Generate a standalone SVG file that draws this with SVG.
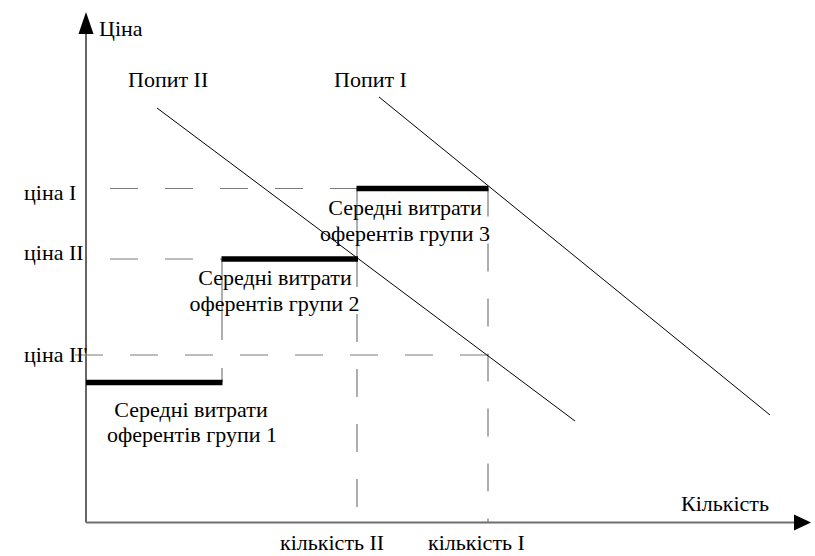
<svg xmlns="http://www.w3.org/2000/svg" width="815" height="556" viewBox="0 0 815 556">
  <style>
    text { font-family: "Liberation Serif", "DejaVu Serif", serif; font-size: 22px; fill: #000; }
    .mid { text-anchor: middle; }
    .axis { stroke: #333; stroke-width: 1.5; fill: none; }
    .axis-x { stroke: #6e6e6e; stroke-width: 2; fill: none; }
    .guide { stroke: #7a7a7a; stroke-width: 1.2; fill: none; stroke-dasharray: 28 27; }
    .step { stroke: #7a7a7a; stroke-width: 1.2; fill: none; }
    .demand { stroke: #000; stroke-width: 1; fill: none; }
    .cost { stroke: #000; stroke-width: 5.5; fill: none; }
    .head { fill: #000; }
  </style>

  <!-- axes -->
  <g id="axes">
    <line class="axis" x1="86" y1="30" x2="86" y2="522.5"/>
    <polygon class="head" points="86,12 78.5,34 93.5,34"/>
    <line class="axis-x" x1="86" y1="522.5" x2="796" y2="522.5"/>
    <polygon class="head" points="811,522.5 794,514.5 794,530.5"/>
    <text x="99" y="36">Ціна</text>
    <text x="681" y="511">Кількість</text>
  </g>

  <!-- price and quantity guides -->
  <g id="guides">
    <line class="guide" x1="110" y1="188.5" x2="357" y2="188.5"/>
    <line class="guide" x1="110" y1="259" x2="222" y2="259"/>
    <line class="guide" x1="75" y1="355" x2="488" y2="355"/>
    <line class="step" x1="222" y1="259" x2="222" y2="340"/>
    <line class="step" x1="222" y1="368" x2="222" y2="382"/>
    <line class="step" x1="357" y1="188.5" x2="357" y2="259"/>
    <line class="guide" x1="357" y1="259" x2="357" y2="522"/>
    <line class="guide" x1="488" y1="188.5" x2="488" y2="522"/>
  </g>

  <!-- price labels -->
  <g id="price-labels">
    <text x="24" y="200">ціна I</text>
    <text x="24" y="260">ціна II</text>
    <text x="24" y="362">ціна II'</text>
  </g>

  <!-- quantity labels -->
  <g id="quantity-labels">
    <text x="280" y="550">кількість II</text>
    <text x="428" y="550">кількість I</text>
  </g>

  <!-- demand curves -->
  <g id="demand-2">
    <line class="demand" x1="157" y1="108" x2="575" y2="421"/>
    <text x="128" y="87">Попит II</text>
  </g>
  <g id="demand-1">
    <line class="demand" x1="379" y1="97" x2="770" y2="415"/>
    <text x="334" y="87">Попит I</text>
  </g>

  <!-- average costs of supplier groups -->
  <g id="group-1">
    <line class="cost" x1="86" y1="382.5" x2="222.5" y2="382.5"/>
    <text class="mid" x="191" y="417">Середні витрати</text>
    <text class="mid" x="192" y="442">оферентів групи 1</text>
  </g>
  <g id="group-2">
    <line class="cost" x1="221.5" y1="259" x2="358" y2="259"/>
    <text class="mid" x="275" y="285">Середні витрати</text>
    <text class="mid" x="274.5" y="311">оферентів групи 2</text>
  </g>
  <g id="group-3">
    <line class="cost" x1="356.5" y1="188.5" x2="488.5" y2="188.5"/>
    <text class="mid" x="405" y="215">Середні витрати</text>
    <text class="mid" x="405" y="241">оферентів групи 3</text>
  </g>
</svg>
